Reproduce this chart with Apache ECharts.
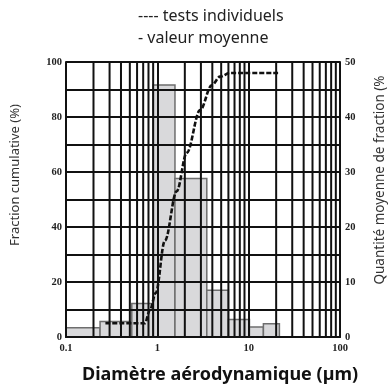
<!DOCTYPE html>
<html>
<head>
<meta charset="utf-8">
<script src="https://cdn.jsdelivr.net/npm/echarts@6/dist/echarts.min.js"></script>
<style>
  html, body { margin: 0; padding: 0; background: #fff; }
  #chart { width: 392px; height: 385px; }
</style>
</head>
<body>
<div id="chart"></div>
<script>
// Size-class edges (µm) and mean share of each class (%)
const binEdges = [0.1, 0.236, 0.525, 0.9, 1.56, 3.48, 6.0, 10.2, 14.5, 21.7];
const binShare = [1.7, 2.8, 6.1, 45.8, 28.8, 8.5, 3.2, 1.8, 2.4];

// Cumulative fraction curve: diameter (µm) and cumulative %
const cumDiameter = [0.27, 0.73, 0.83, 0.96, 1.21, 1.63, 2.1, 2.94, 3.94, 4.86, 6.25, 21];
const cumPercent = [5, 5, 9.8, 16, 35, 53, 67, 82.5, 91.5, 94.7, 96, 96];

// Log-axis labels and intermediate grid positions
const xTickLabels = ['0.1', '1', '10', '100'];
const minorGrid = [0.2, 0.3, 0.4, 0.5, 0.6, 0.7, 0.8, 0.9,
                   2, 3, 4, 5, 6, 7, 8, 9,
                   20, 30, 40, 50, 60, 70, 80, 90];

const INK = '#111';
const tickFont = { fontFamily: 'Liberation Serif', fontWeight: 'bold', fontSize: 10.5, color: '#222' };

const barData = binShare.map((v, i) => [binEdges[i], binEdges[i + 1], v]);
const cumData = cumDiameter.map((d, i) => [d, cumPercent[i]]);

const chart = echarts.init(document.getElementById('chart'), null, { renderer: 'canvas' });

chart.setOption({
  animation: false,
  backgroundColor: '#fff',
  grid: { left: 66, right: 52, top: 62, bottom: 48, show: false },
  graphic: [
    { type: 'text', x: 138, y: 16,
      style: { text: '---- tests individuels', font: '16px "Noto Sans"', fill: '#222', verticalAlign: 'middle' } },
    { type: 'text', x: 138, y: 38,
      style: { text: '- valeur moyenne', font: '16px "Noto Sans"', fill: '#222', verticalAlign: 'middle' } },
    { type: 'text', x: 15, y: 175, rotation: Math.PI / 2,
      style: { text: 'Fraction cumulative (%)', font: '13px "Noto Sans"', fill: '#333', align: 'center', verticalAlign: 'middle' } },
    { type: 'text', x: 380, y: 180, rotation: Math.PI / 2,
      style: { text: 'Quantité moyenne de fraction (%', font: '13.5px "Noto Sans"', fill: '#333', align: 'center', verticalAlign: 'middle' } },
    { type: 'text', x: 220, y: 375,
      style: { text: 'Diamètre aérodynamique (µm)', font: 'bold 18px "Noto Sans"', fill: '#111', align: 'center', verticalAlign: 'middle' } }
  ],
  xAxis: {
    type: 'log',
    logBase: 10,
    min: 0.1,
    max: 100,
    z: 3,
    axisLine: { show: true, onZero: false, lineStyle: { color: INK, width: 2 } },
    axisTick: { show: false },
    axisLabel: {
      ...tickFont,
      margin: 6,
      formatter: v => {
        const e = Math.round(Math.log10(v));
        return xTickLabels[e + 1] !== undefined ? xTickLabels[e + 1] : '';
      }
    },
    splitLine: { show: true, showMinLine: true, showMaxLine: true, lineStyle: { color: INK, width: 2 } }
  },
  yAxis: [
    {
      type: 'value',
      min: 0, max: 100, interval: 10,
      position: 'left',
      z: 3,
      axisLine: { show: true, lineStyle: { color: INK, width: 2 } },
      axisTick: { show: false },
      axisLabel: { ...tickFont, margin: 4, formatter: v => (v % 20 === 0 ? String(v) : '') },
      splitLine: { show: true, showMinLine: true, showMaxLine: true, lineStyle: { color: INK, width: 2 } }
    },
    {
      type: 'value',
      min: 0, max: 50, interval: 10,
      position: 'right',
      z: 3,
      axisLine: { show: true, lineStyle: { color: INK, width: 2 } },
      axisTick: { show: false },
      axisLabel: { ...tickFont, margin: 5 },
      splitLine: { show: false }
    }
  ],
  series: [
    {
      name: 'classes',
      type: 'custom',
      z: 1,
      xAxisIndex: 0,
      yAxisIndex: 1,
      encode: { x: [0, 1], y: 2 },
      data: barData,
      renderItem: (params, api) => {
        const p0 = api.coord([api.value(0), 0]);
        const p1 = api.coord([api.value(1), api.value(2)]);
        return {
          type: 'rect',
          shape: { x: p0[0], y: p1[1], width: p1[0] - p0[0], height: p0[1] - p1[1] },
          style: { fill: '#d9d9db', stroke: '#6e6e6e', lineWidth: 1.5 }
        };
      }
    },
    {
      name: 'grille',
      type: 'custom',
      z: 3,
      xAxisIndex: 0,
      yAxisIndex: 0,
      encode: { x: 0, y: 1 },
      data: minorGrid.map(v => [v, 0]),
      renderItem: (params, api) => {
        const a = api.coord([api.value(0), 0]);
        const b = api.coord([api.value(0), 100]);
        return {
          type: 'line',
          shape: { x1: a[0], y1: a[1], x2: b[0], y2: b[1] },
          style: { stroke: INK, lineWidth: 2 }
        };
      }
    },
    {
      name: 'cumul',
      type: 'line',
      z: 5,
      xAxisIndex: 0,
      yAxisIndex: 0,
      data: cumData,
      smooth: 0.35,
      smoothMonotone: 'x',
      symbol: 'none',
      lineStyle: { color: INK, width: 2.6, type: [5, 2] }
    }
  ]
});
</script>
</body>
</html>
